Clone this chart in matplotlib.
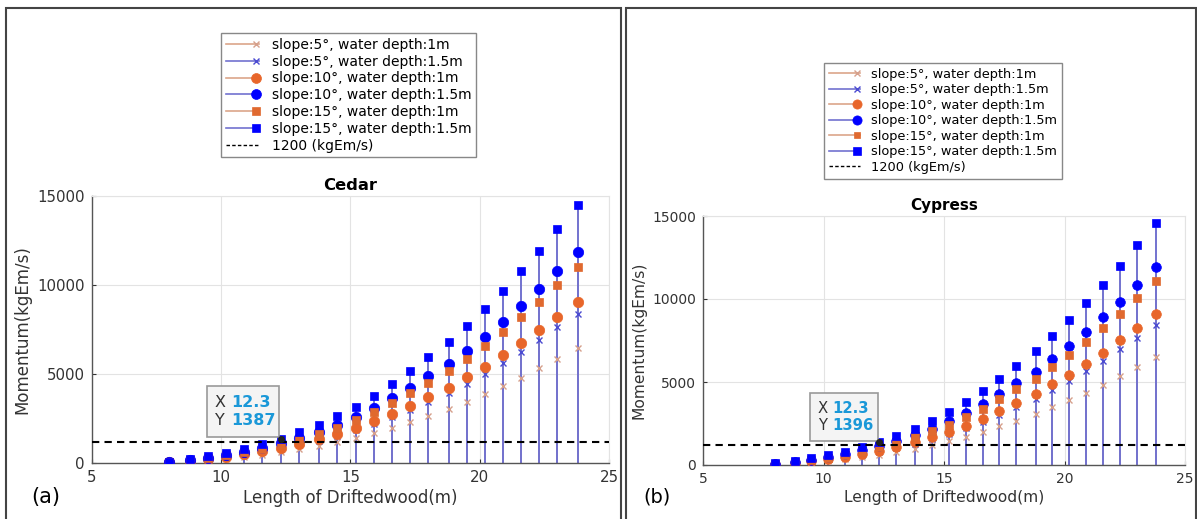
import matplotlib
matplotlib.use("Agg")
import matplotlib.pyplot as plt
import numpy as np
from matplotlib.lines import Line2D
from matplotlib.patches import Rectangle
from matplotlib.legend_handler import HandlerLine2DCompound

# driftwood length (m)
length = [8.0, 8.8, 9.5, 10.2, 10.9, 11.6, 12.3, 13.0, 13.8, 14.5, 15.2, 15.9,
          16.6, 17.3, 18.0, 18.8, 19.5, 20.2, 20.9, 21.6, 22.3, 23.0, 23.8]

# Cedar momentum (kgEm/s)
cedar_s5_h1 = [45, 98, 174, 259, 358, 474, 620, 782, 970, 1180, 1421, 1690,
               1985, 2311, 2660, 3040, 3446, 3871, 4331, 4814, 5333, 5878, 6468]
cedar_s5_h15 = [58, 128, 226, 336, 464, 615, 804, 1015, 1259, 1531, 1844, 2192,
                2575, 2999, 3451, 3944, 4472, 5023, 5620, 6247, 6919, 7627, 8393]
cedar_s10_h1 = [63, 138, 244, 363, 500, 663, 867, 1094, 1356, 1650, 1988, 2363,
                2775, 3231, 3719, 4250, 4819, 5413, 6056, 6731, 7456, 8219, 9044]
cedar_s10_h15 = [82, 180, 320, 476, 656, 869, 1137, 1435, 1779, 2165, 2608, 3100,
                 3641, 4239, 4879, 5576, 6322, 7101, 7946, 8831, 9783, 10783, 11865]
cedar_s15_h1 = [76, 167, 296, 441, 608, 806, 1054, 1330, 1649, 2006, 2417, 2873,
                3374, 3929, 4522, 5168, 5860, 6582, 7364, 8185, 9067, 9994, 10997]
cedar_s15_h15 = [100, 220, 390, 580, 800, 1060, 1387, 1750, 2170, 2640, 3180, 3780,
                 4440, 5170, 5950, 6800, 7710, 8660, 9690, 10770, 11930, 13150, 14470]

# Cypress momentum (kgEm/s)
cyp_s5_h1 = [45, 99, 175, 261, 360, 477, 624, 787, 976, 1188, 1430, 1701,
             1998, 2326, 2677, 3060, 3468, 3896, 4359, 4845, 5368, 5916, 6510]
cyp_s5_h15 = [58, 129, 227, 338, 467, 619, 809, 1022, 1267, 1541, 1856, 2206,
              2592, 3018, 3473, 3970, 4501, 5056, 5657, 6288, 6964, 7677, 8448]
cyp_s10_h1 = [63, 139, 246, 365, 503, 667, 873, 1101, 1365, 1661, 2001, 2378,
              2793, 3252, 3743, 4278, 4850, 5448, 6095, 6775, 7504, 8272, 9103]
cyp_s10_h15 = [83, 181, 322, 479, 660, 875, 1144, 1444, 1791, 2179, 2625, 3120,
               3665, 4267, 4911, 5612, 6363, 7147, 7998, 8888, 9847, 10853, 11942]
cyp_s15_h1 = [76, 168, 298, 444, 612, 811, 1061, 1339, 1660, 2019, 2433, 2892,
              3396, 3955, 4551, 5202, 5898, 6625, 7412, 8238, 9126, 10059, 11068]
cyp_s15_h15 = [101, 221, 393, 584, 805, 1067, 1396, 1761, 2184, 2657, 3201, 3805,
               4469, 5204, 5989, 6844, 7760, 8716, 9753, 10840, 12008, 13235, 14564]

labels = ["slope:5°, water depth:1m", "slope:5°, water depth:1.5m",
          "slope:10°, water depth:1m", "slope:10°, water depth:1.5m",
          "slope:15°, water depth:1m", "slope:15°, water depth:1.5m"]
threshold = 1200
tip_x = 12.3
tip_cedar = 1387
tip_cyp = 1396

stem_c = ["#dca58a", "#7272cf", "#dca58a", "#7272cf", "#dca58a", "#7272cf"]
mark_c = ["#d6a08c", "#4b4bd2", "#e8662a", "#0000ff", "#e0692f", "#0000ff"]
markers = ["x", "x", "o", "o", "s", "s"]
msizes = [5, 5, 7.5, 7.5, 5.5, 6]


class EndMarker(HandlerLine2DCompound):
    # matlab style legend: line, marker at the right end
    def get_xdata(self, legend, xdescent, ydescent, width, height, fontsize):
        xdata = np.array([-xdescent, -xdescent + width])
        return xdata, np.array([-xdescent + width - 2])


fig = plt.figure(figsize=(11.97, 5.19), dpi=100)
W, H = 1197, 519

# panel frames
for x0, x1 in [(6, 621), (626, 1196)]:
    fig.patches.append(Rectangle((x0 / W, -0.05), (x1 - x0) / W, 1.05 - 8 / H,
                                 transform=fig.transFigure, fill=False,
                                 edgecolor="#444444", lw=1.5))


def panel(rect, series, title, tip_y, tag, scale, leg_xy):
    ax = fig.add_axes(rect)
    fs = 10.8 * scale
    for y, c in zip(series, stem_c):
        ax.vlines(length, 0, y, color=c, lw=1.4, zorder=2)
    for y, m, c, s in zip(series, markers, mark_c, msizes):
        ax.plot(length, y, ls="none", marker=m, color=c, ms=s * scale,
                mew=1.0 if m == "x" else 0.5, zorder=3)
    ax.axhline(threshold, color="black", ls=(0, (3.5, 2.5)), lw=1.5, zorder=4)
    ax.set_xlim(5, 25)
    ax.set_ylim(0, 15000)
    ax.set_xticks([5, 10, 15, 20, 25])
    ax.set_yticks([0, 5000, 10000, 15000])
    ax.grid(True, color="#e3e3e3", lw=0.8, zorder=0)
    ax.set_axisbelow(True)
    for s in ["left", "bottom"]:
        ax.spines[s].set_color("#555555")
        ax.spines[s].set_linewidth(1.0)
    for s in ["top", "right"]:
        ax.spines[s].set_color("#e3e3e3")
    ax.tick_params(direction="in", length=3, labelsize=fs, colors="#333333",
                   top=False, right=False, pad=5)
    ax.set_xlabel("Length of Driftedwood(m)", fontsize=12 * scale,
                  color="#333333", labelpad=3)
    ax.set_ylabel("Momentum(kgEm/s)", fontsize=12 * scale, color="#333333",
                  labelpad=4)
    ax.set_title(title, fontsize=11.8 * scale, fontweight="bold", pad=4)

    # data tip
    ax.plot([tip_x], [tip_y], "o", color="#222222", ms=4, zorder=6)
    ax.add_patch(Rectangle((0.222, 0.097), 0.141, 0.193, transform=ax.transAxes,
                           facecolor="#f4f4f4", edgecolor="#999999", lw=1.2,
                           zorder=5))
    ax.text(0.238, 0.228, "X", transform=ax.transAxes, fontsize=11.5 * scale,
            color="#333333", va="center", zorder=6)
    ax.text(0.269, 0.228, f"{tip_x}", transform=ax.transAxes,
            fontsize=11.5 * scale, color="#1a98d8", fontweight="bold",
            va="center", zorder=6)
    ax.text(0.238, 0.159, "Y", transform=ax.transAxes, fontsize=11.5 * scale,
            color="#333333", va="center", zorder=6)
    ax.text(0.269, 0.159, f"{tip_y}", transform=ax.transAxes,
            fontsize=11.5 * scale, color="#1a98d8", fontweight="bold",
            va="center", zorder=6)

    handles = [Line2D([], [], color=sc, lw=1.2, marker=m, mfc=mc, mec=mc,
                      ms=s * 0.95 * scale, mew=1.0 if m == "x" else 0.5)
               for sc, mc, m, s in zip(stem_c, mark_c, markers, msizes)]
    handles.append(Line2D([], [], color="black", ls=(0, (2.5, 1.6)), lw=1.0))
    leg = fig.legend(handles, labels + ["1200 (kgEm/s)"], loc="upper left",
                     bbox_to_anchor=leg_xy, bbox_transform=fig.transFigure,
                     borderaxespad=0, fontsize=10 * scale,
                     handler_map={Line2D: EndMarker()},
                     handlelength=2.4, handletextpad=0.9, labelspacing=0.2,
                     borderpad=0.35, fancybox=False, framealpha=1,
                     edgecolor="#888888")
    leg.get_frame().set_linewidth(1.0)
    fig.text(rect[0] - 60 / W, 22 / H, tag, fontsize=15 * scale, va="center")
    return ax


cedar = [cedar_s5_h1, cedar_s5_h15, cedar_s10_h1, cedar_s10_h15,
         cedar_s15_h1, cedar_s15_h15]
cyp = [cyp_s5_h1, cyp_s5_h15, cyp_s10_h1, cyp_s10_h15, cyp_s15_h1, cyp_s15_h15]

panel([91.7 / W, 1 - 463.3 / H, 517.3 / W, 267.3 / H], cedar, "Cedar",
      tip_cedar, "(a)", 1.0, (221 / W, 1 - 33 / H))
panel([703 / W, 1 - 465 / H, 482 / W, 249 / H], cyp, "Cypress",
      tip_cyp, "(b)", 0.93, (824 / W, 1 - 63 / H))

plt.savefig("out.png", dpi=100)
